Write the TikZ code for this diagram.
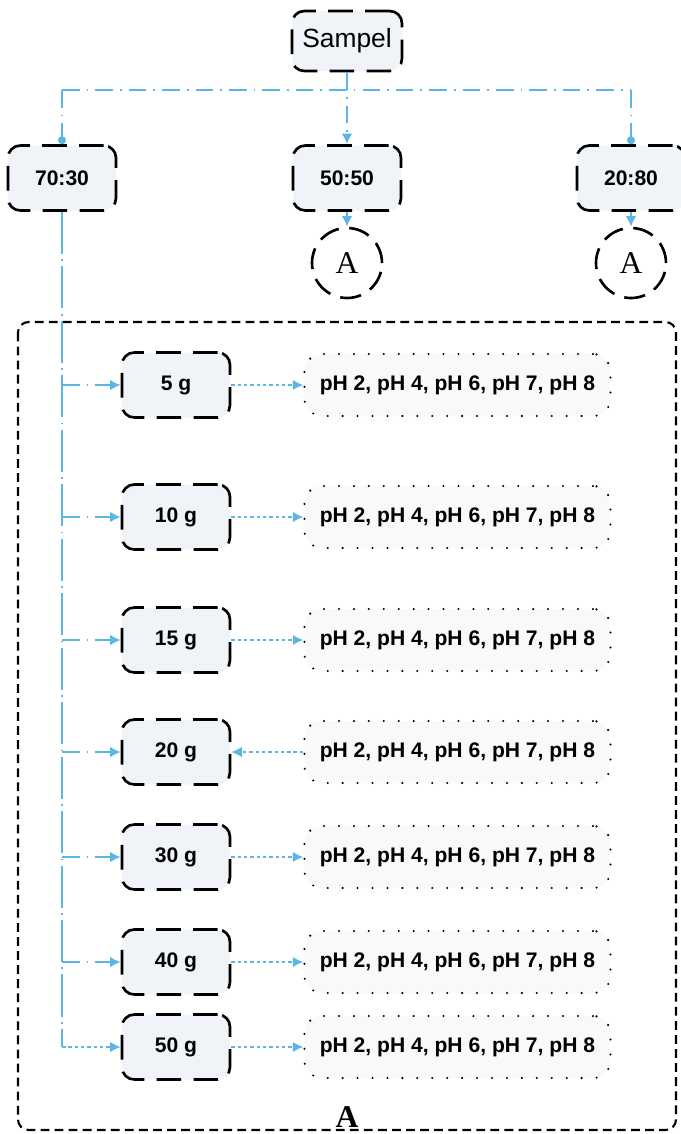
\documentclass[tikz,border=0pt]{standalone}
\usepackage{fontspec}
\setmainfont{Liberation Serif}
\setsansfont{Liberation Sans}
\usetikzlibrary{positioning, arrows.meta}
\definecolor{flowblue}{HTML}{5BB6E4}
\definecolor{boxfill}{HTML}{F0F3F7}

\begin{document}
\begin{tikzpicture}[
  node distance=1.44cm,
  dashbox/.style={
    rectangle, rounded corners=7pt, draw=black, fill=boxfill,
    line width=1.5pt, dash pattern=on 14pt off 7pt,
    minimum width=2.16cm, minimum height=1.3cm,
    font=\sffamily\bfseries\fontsize{12}{14}\selectfont
  },
  phbox/.style={
    rectangle, rounded corners=10pt, draw=black, fill=boxfill!50,
    line width=1.3pt, line cap=round, dash pattern=on 0pt off 8.5pt,
    minimum width=6.12cm, minimum height=1.24cm,
    font=\sffamily\bfseries\fontsize{12}{14}\selectfont
  },
  labcircle/.style={
    circle, draw=black, line width=1.5pt, dash pattern=on 12pt off 6pt,
    minimum size=1.4cm, inner sep=0pt, font=\fontsize{18}{20}\selectfont
  },
  flow/.style={flowblue, line width=1.1pt, dash pattern=on 10pt off 4pt on 1pt off 4pt},
  trunk/.style={flowblue, line width=1.1pt, dash pattern=on 24pt off 3pt on 1pt off 3pt},
  dots/.style={flowblue, line width=1.1pt, dash pattern=on 2pt off 1.6pt},
  tip/.style={-{Latex[length=6pt,width=6pt]}},
  dot/.style={-{Circle[length=4.5pt]}},
]
\useasboundingbox (0,0) rectangle (13.62,-22.68);

% sample and the three ratios
\node[dashbox, minimum width=2.2cm, minimum height=1.2cm,
  font=\sffamily\fontsize{15}{17}\selectfont] (sampel) at (6.94,-0.82) {Sampel};
\node[dashbox] (r1) at (1.24,-3.56) {70:30};
\node[dashbox] (r2) at (6.94,-3.56) {50:50};
\node[dashbox] (r3) at (12.62,-3.56) {20:80};

\node[labcircle] (c2) at (6.94,-5.26) {A};
\node[labcircle] (c3) at (12.62,-5.26) {A};

\coordinate (split) at (6.94,-1.8);
\draw[flow] (r1 |- split) -- (r3 |- split);
\draw[flow, tip] (sampel) -- (r2);
\draw[flow, dot] (r1 |- split) -- (r1);
\draw[flow, dot] (r3 |- split) -- (r3);
\draw[flowblue, line width=1.1pt, tip] (r2) -- (c2);
\draw[flowblue, line width=1.1pt, tip] (r3) -- (c3);

% procedure A
\draw[line width=1.2pt, dash pattern=on 5pt off 3pt, rounded corners=6pt]
  (0.36,-6.44) rectangle (13.52,-22.6);

\node[dashbox] (g5) at (3.52,-7.7) {5 g};
\node[phbox, right=of g5] (p5) {pH 2, pH 4, pH 6, pH 7, pH 8};
\node[dashbox] (g10) at (3.52,-10.34) {10 g};
\node[phbox, right=of g10] (p10) {pH 2, pH 4, pH 6, pH 7, pH 8};
\node[dashbox] (g15) at (3.52,-12.8) {15 g};
\node[phbox, right=of g15] (p15) {pH 2, pH 4, pH 6, pH 7, pH 8};
\node[dashbox] (g20) at (3.52,-15.04) {20 g};
\node[phbox, right=of g20] (p20) {pH 2, pH 4, pH 6, pH 7, pH 8};
\node[dashbox] (g30) at (3.52,-17.14) {30 g};
\node[phbox, right=of g30] (p30) {pH 2, pH 4, pH 6, pH 7, pH 8};
\node[dashbox] (g40) at (3.52,-19.24) {40 g};
\node[phbox, right=of g40] (p40) {pH 2, pH 4, pH 6, pH 7, pH 8};
\node[dashbox] (g50) at (3.52,-20.94) {50 g};
\node[phbox, right=of g50] (p50) {pH 2, pH 4, pH 6, pH 7, pH 8};

\draw[trunk] (r1.south) -- (r1 |- g50);
\draw[dots, tip] (r1 |- g50) -- (g50);
\foreach \g in {g5, g10, g15, g20, g30, g40} {
  \draw[flow, tip] (r1 |- \g) -- (\g);
}

\foreach \i/\j in {g5/p5, g10/p10, g15/p15, g30/p30, g40/p40, g50/p50} {
  \draw[dots, tip] (\i) -- (\j);
}
\draw[dots, tip] (p20) -- (g20);

\node[font=\bfseries\fontsize{18}{20}\selectfont, anchor=base] (labA) at (6.94,-22.55) {A};
\end{tikzpicture}
\end{document}
